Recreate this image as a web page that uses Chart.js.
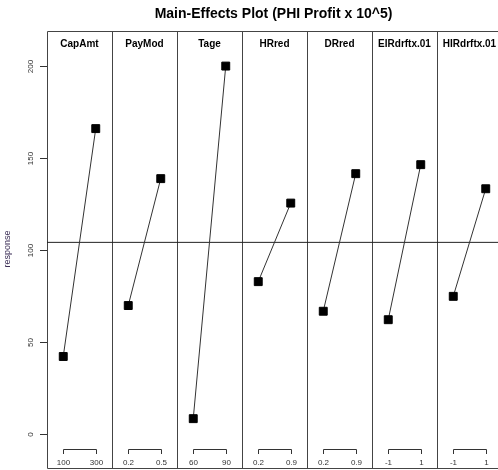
<!DOCTYPE html>
<html>
<head>
<meta charset="utf-8">
<script src="https://cdn.jsdelivr.net/npm/chart.js@4/dist/chart.umd.min.js"></script>
<style>
  html, body { margin: 0; padding: 0; background: #fff; overflow: hidden; }
  #wrap { width: 498px; height: 470px; }
</style>
</head>
<body>
<div id="wrap"><canvas id="chart" width="498" height="470"></canvas></div>
<script>
// factor names and their two levels
const factors = ['CapAmt', 'PayMod', 'Tage', 'HRred', 'DRred', 'EIRdrftx.01', 'HIRdrftx.01'];
const lowLabels = ['100', '0.2', '60', '0.2', '0.2', '-1', '-1'];
const highLabels = ['300', '0.5', '90', '0.9', '0.9', '1', '1'];

// mean response at each level
const lowResponse = [42.1, 69.8, 8.3, 82.8, 66.7, 62.1, 74.8];
const highResponse = [166, 138.8, 200, 125.5, 141.5, 146.4, 133.3];
const grandMean = 104.15;

const yTicks = [0, 50, 100, 150, 200];

const xMin = -0.5;
const xMax = 13.377;

const datasets = factors.map((f, i) => ({
    label: f,
    data: [{ x: 2 * i, y: lowResponse[i] }, { x: 2 * i + 1, y: highResponse[i] }],
    borderColor: '#333',
    borderWidth: 1,
    pointStyle: 'rect',
    pointRadius: 5.6,
    pointBackgroundColor: '#000',
    pointBorderColor: '#000',
    pointBorderWidth: 1,
    showLine: true,
    tension: 0
}));

datasets.push({
    label: 'mean',
    data: [{ x: xMin, y: grandMean }, { x: xMax, y: grandMean }],
    borderColor: '#222',
    borderWidth: 1,
    pointRadius: 0,
    showLine: true
});

const panelPlugin = {
    id: 'panels',
    beforeDatasetsDraw(chart) {
        const ctx = chart.ctx;
        const a = chart.chartArea;
        const xs = chart.scales.x;
        ctx.save();
        ctx.strokeStyle = '#444';
        ctx.lineWidth = 1;
        ctx.beginPath();
        ctx.moveTo(a.right + 5, Math.round(a.top) + 0.5);
        ctx.lineTo(Math.round(a.left) + 0.5, Math.round(a.top) + 0.5);
        ctx.lineTo(Math.round(a.left) + 0.5, Math.round(a.bottom) - 0.5);
        ctx.lineTo(a.right + 5, Math.round(a.bottom) - 0.5);
        ctx.stroke();
        for (let i = 1; i < factors.length; i++) {
            const px = Math.round(xs.getPixelForValue(2 * i - 0.5)) + 0.5;
            ctx.beginPath();
            ctx.moveTo(px, a.top);
            ctx.lineTo(px, a.bottom);
            ctx.stroke();
        }
        ctx.restore();
    },
    afterDraw(chart) {
        const ctx = chart.ctx;
        const a = chart.chartArea;
        const xs = chart.scales.x;
        const ys = chart.scales.y;
        ctx.save();

        // title
        ctx.fillStyle = '#000';
        ctx.font = 'bold 14px "Liberation Sans", Arial, sans-serif';
        ctx.textAlign = 'center';
        ctx.textBaseline = 'middle';
        ctx.fillText('Main-Effects Plot (PHI Profit x 10^5)', (a.left + a.right) / 2 + 1, 14);

        // panel headers
        ctx.font = 'bold 10px "Liberation Sans", Arial, sans-serif';
        factors.forEach((f, i) => {
            ctx.fillText(f, xs.getPixelForValue(2 * i + 0.5), 44);
        });

        // level brackets and labels
        ctx.strokeStyle = '#333';
        ctx.lineWidth = 1;
        ctx.font = '8px "Liberation Sans", Arial, sans-serif';
        ctx.fillStyle = '#333';
        factors.forEach((f, i) => {
            const x0 = Math.round(xs.getPixelForValue(2 * i)) + 0.5;
            const x1 = Math.round(xs.getPixelForValue(2 * i + 1)) + 0.5;
            ctx.beginPath();
            ctx.moveTo(x0, 454);
            ctx.lineTo(x0, 449.5);
            ctx.lineTo(x1, 449.5);
            ctx.lineTo(x1, 454);
            ctx.stroke();
            ctx.fillText(lowLabels[i], x0, 463);
            ctx.fillText(highLabels[i], x1, 463);
        });

        // y ticks
        yTicks.forEach(t => {
            const py = Math.round(ys.getPixelForValue(t)) + 0.5;
            ctx.beginPath();
            ctx.moveTo(a.left - 7, py);
            ctx.lineTo(a.left, py);
            ctx.stroke();
            ctx.save();
            ctx.translate(31, py);
            ctx.rotate(-Math.PI / 2);
            ctx.fillText(String(t), 0, 0);
            ctx.restore();
        });

        // y title
        ctx.save();
        ctx.font = '9px "Liberation Sans", Arial, sans-serif';
        ctx.fillStyle = '#3a2d55';
        ctx.translate(8, 249);
        ctx.rotate(-Math.PI / 2);
        ctx.fillText('response', 0, 0);
        ctx.restore();

        ctx.restore();
    }
};

new Chart(document.getElementById('chart'), {
    type: 'scatter',
    data: { datasets: datasets },
    options: {
        responsive: false,
        animation: false,
        devicePixelRatio: 1,
        layout: { autoPadding: false, padding: { left: 47, top: 31, right: 0, bottom: 1 } },
        plugins: {
            legend: { display: false },
            tooltip: { enabled: false },
            title: { display: false }
        },
        scales: {
            x: { type: 'linear', min: xMin, max: xMax, display: false },
            y: { type: 'linear', min: -19.07, max: 219.07, display: false }
        }
    },
    plugins: [panelPlugin]
});
</script>
</body>
</html>
